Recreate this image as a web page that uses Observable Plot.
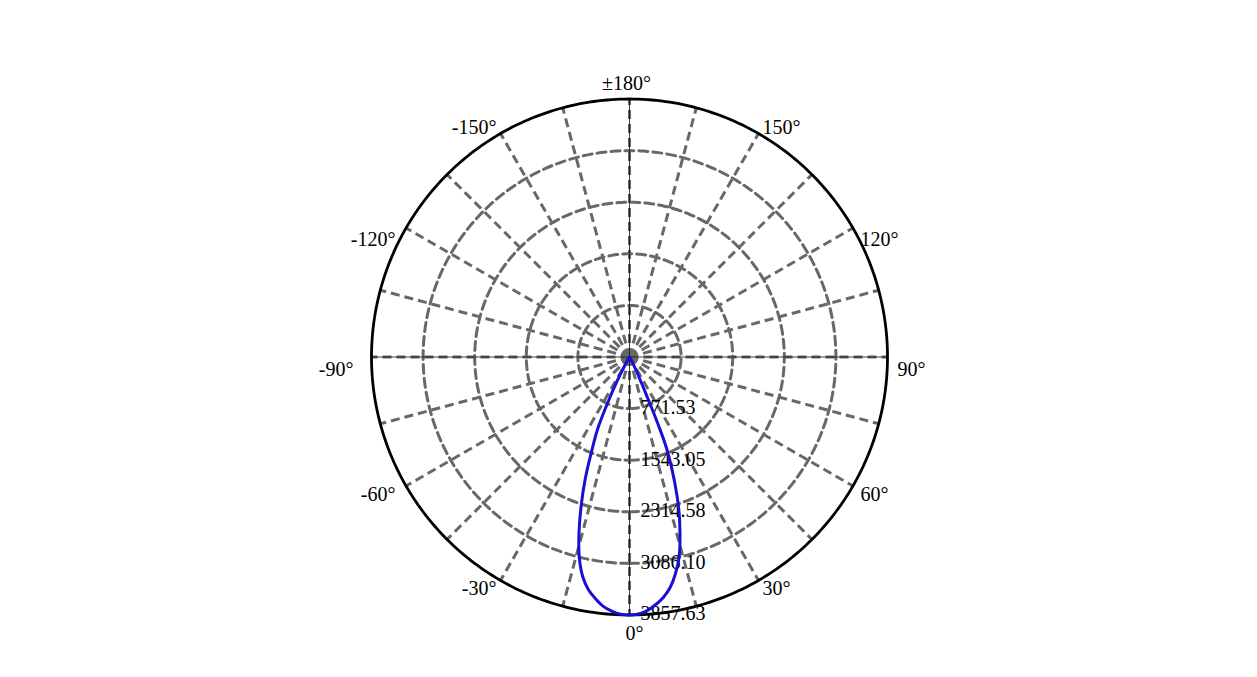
<!DOCTYPE html>
<html>
<head>
<meta charset="utf-8">
<script src="https://cdn.jsdelivr.net/npm/d3@7"></script>
<script src="https://cdn.jsdelivr.net/npm/@observablehq/plot@0.6"></script>
<style>
  html, body { margin: 0; padding: 0; background: #fff; }
  svg { display: block; }
</style>
</head>
<body>
<div id="chart"></div>
<script>
// ---- data ----
const ringValues = [771.53, 1543.05, 2314.58, 3086.10, 3857.63];
const angleTicks = [0, 30, 60, 90, 120, 150, 180, -150, -120, -90, -60, -30];
const angleLabels = ["0°", "30°", "60°", "90°", "120°", "150°", "±180°", "-150°", "-120°", "-90°", "-60°", "-30°"];
const spokeAngles = d3.range(0, 360, 15);

// intensity curve: angle (deg, 0 = down, + = right) and value
const curveAngles = [-180, -90, -60, -50, -40, -35, -30, -28, -27, -26, -24, -22, -20, -18, -16, -14, -12, -10, -8, -6, -4, -2,
  0, 2, 4, 6, 8, 10, 12, 14, 16, 18, 20, 22, 23, 24, 26, 28, 30, 35, 40, 50, 60, 90, 180];
const curveValues = [0, 0, 1, 3, 8, 25, 100, 250, 450, 650, 1150, 1500, 1930, 2340, 2740, 3100, 3360, 3535, 3650, 3750, 3810, 3850,
  3857.63, 3845, 3800, 3725, 3630, 3500, 3310, 3070, 2740, 2380, 1950, 1500, 1100, 620, 250, 120, 60, 20, 8, 3, 1, 0, 0];

// ---- layout ----
const W = 1257, H = 677;
const Rmax = ringValues[ringValues.length - 1];
const rPx = 258;
const ml = 371, mt = 98.5;
const mr = W - ml - 2 * rPx, mb = H - mt - 2 * rPx;
const k = Rmax / rPx; // data units per pixel
const rad = d => d * Math.PI / 180;
const px = (a, v) => v * Math.sin(rad(a));
const py = (a, v) => -v * Math.cos(rad(a));

const circlePts = (v, key) => d3.range(0, 361, 1).map(a => ({key, x: px(a, v), y: py(a, v)}));
const innerRings = ringValues.slice(0, -1).flatMap((v, i) => circlePts(v, i));
const outerRing = circlePts(Rmax, "outer");

const curve = curveAngles.map((a, i) => ({x: px(a, curveValues[i]), y: py(a, curveValues[i])}));

// angle label placement (pixels converted to data units)
const labels = angleTicks.map((a, i) => ({a, text: angleLabels[i]}));
const S = a => Math.abs(Math.sin(rad(a)));
const C = a => Math.cos(rad(a));
const labelX = (a, side) => Math.sign(Math.sin(rad(a))) * (266 + side * Math.pow(S(a), 6)) * S(a) * k;
const labelY = a => -((240 + 30 * Math.abs(C(a))) * C(a) + 24 * S(a) - 11) * k;
const rightLabels = labels.filter(d => d.a > 0 && d.a < 180);
const leftLabels = labels.filter(d => d.a < 0);
const midLabels = labels.filter(d => d.a === 0 || d.a === 180);

const grey = "#686868";
const dash = "9,5";

const chart = Plot.plot({
  width: W,
  height: H,
  marginLeft: ml, marginRight: mr, marginTop: mt, marginBottom: mb,
  x: {domain: [-Rmax, Rmax], axis: null},
  y: {domain: [-Rmax, Rmax], axis: null},
  style: {fontFamily: "'Liberation Serif', 'Times New Roman', serif", fontSize: "20px", background: "#fff", color: "#000"},
  marks: [
    Plot.line(innerRings, {x: "x", y: "y", z: "key", stroke: grey, strokeWidth: 3, strokeDasharray: dash}),
    Plot.link(spokeAngles, {x1: 0, y1: 0, x2: a => px(a, Rmax), y2: a => py(a, Rmax), stroke: grey, strokeWidth: 3, strokeDasharray: dash, strokeLinecap: "butt"}),
    Plot.link([0, 90], {x1: a => px(a, Rmax), y1: a => py(a, Rmax), x2: a => px(a + 180, Rmax), y2: a => py(a + 180, Rmax), stroke: "#111", strokeWidth: 0.8}),
    Plot.line(outerRing, {x: "x", y: "y", stroke: "#000", strokeWidth: 2.8}),
    Plot.text(ringValues, {x: 11 * k, y: v => -v + 1 * k, text: v => v.toFixed(2), textAnchor: "start", fill: "#000"}),
    Plot.text(rightLabels, {x: d => labelX(d.a, 2), y: d => labelY(d.a), text: "text", textAnchor: "start", fill: "#000"}),
    Plot.text(leftLabels, {x: d => labelX(d.a, 10), y: d => labelY(d.a), text: "text", textAnchor: "end", fill: "#000"}),
    Plot.text(midLabels, {x: d => (d.a === 0 ? 5 : -3) * k, y: d => py(d.a, 275 * k) - 1.5 * k, text: "text", textAnchor: "middle", fill: "#000"}),
    Plot.line(curve, {x: "x", y: "y", curve: "catmull-rom", stroke: "#1a0fd2", strokeWidth: 3})
  ]
});
document.getElementById("chart").appendChild(chart);
</script>
</body>
</html>
